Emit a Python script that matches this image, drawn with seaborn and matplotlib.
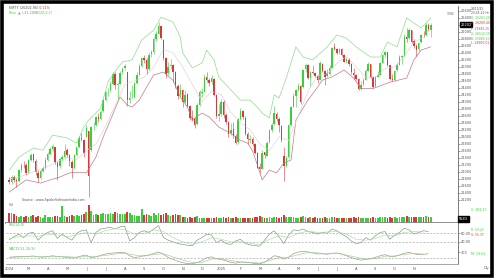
import numpy as np
import matplotlib
matplotlib.use("Agg")
import matplotlib.pyplot as plt
import seaborn as sns
from matplotlib.patches import Rectangle

# ---------------- data ----------------
month_labels = ["2024", "M", "A", "M", "J", "J", "A", "S", "O", "N", "D", "2025",
                "F", "M", "A", "M", "J", "J", "A", "S", "O", "N"]
candles_per_month = 8

opens = [
    21780, 21700, 21860, 21780, 21750, 22050, 22220, 22200,
    22000, 22350, 22500, 22320, 21980, 21830, 22020, 22110,
    22340, 22520, 22650, 22700, 22260, 22160, 22380, 22430,
    22620, 22470, 22290, 22110, 22480, 22710, 22980, 22920,
    23000, 23180, 22620, 23300, 23340, 23570, 23510, 23730,
    24060, 24300, 24330, 24510, 24790, 24470, 24520, 24840,
    24960, 24850, 24060, 24130, 24150, 24550, 24780, 25020,
    25250, 25190, 24950, 25360, 25430, 25800, 25950, 26170,
    25780, 25240, 24810, 25010, 25050, 24840, 24460, 24190,
    24330, 24000, 24210, 23870, 23540, 23510, 23360, 23910,
    24260, 24290, 24710, 24610, 24560, 24660, 24190, 23600,
    23650, 23990, 23610, 23420, 23100, 23210, 23010, 22840,
    23510, 23750, 23550, 23080, 22900, 22940, 22790, 22540,
    22130, 22090, 22560, 22460, 22840, 23200, 23360, 23660,
    23510, 23320, 22460, 22170, 22420, 23340, 23860, 24180,
    24340, 24450, 24420, 24930, 25050, 24690, 24860, 24820,
    24740, 24630, 25090, 24880, 24730, 24800, 24980, 25560,
    25510, 25410, 25510, 25340, 25160, 25200, 25080, 24830,
    24760, 24640, 24370, 24500, 24630, 24890, 25070, 24700,
    24440, 24720, 24780, 25120, 25340, 25410, 25040, 24660,
    24620, 24900, 25060, 25280, 25330, 25850, 25810, 26040,
    25730, 25590, 25500, 25700, 25920, 25900, 26200, 26060,
]
highs = [
    21850, 21900, 21920, 21830, 22070, 22250, 22300, 22240,
    22380, 22530, 22520, 22360, 22050, 22080, 22180, 22420,
    22560, 22700, 22790, 22720, 22300, 22400, 22470, 22790,
    22680, 22500, 22330, 22500, 22720, 23030, 23110, 22950,
    23340, 23180, 23320, 23410, 23600, 23670, 23760, 24090,
    24310, 24400, 24590, 24860, 24850, 24580, 24870, 25000,
    25080, 24850, 24300, 24470, 24560, 24860, 25070, 25270,
    25330, 25240, 25430, 25480, 25850, 26010, 26280, 26200,
    25800, 25290, 25130, 25210, 25080, 24880, 24500, 24500,
    24370, 24350, 24240, 23920, 23780, 23560, 23960, 24350,
    24390, 24790, 24860, 24670, 24780, 24680, 24220, 23940,
    24080, 24050, 23690, 23450, 23390, 23420, 23070, 23550,
    23810, 23770, 23590, 23140, 23050, 22990, 22820, 22560,
    22260, 22630, 22580, 22870, 23220, 23400, 23870, 23700,
    23560, 23350, 22700, 22460, 23370, 23870, 24240, 24360,
    24530, 24490, 24940, 25100, 25070, 24870, 25060, 24860,
    24770, 25160, 25120, 24900, 24950, 25050, 25580, 25670,
    25550, 25550, 25530, 25370, 25260, 25240, 25100, 24960,
    24800, 24670, 24590, 24670, 24930, 25150, 25090, 24730,
    24740, 24870, 25140, 25360, 25450, 25430, 25060, 24790,
    24910, 25100, 25330, 25340, 25930, 26100, 26110, 26060,
    25800, 25650, 25720, 25950, 26010, 26250, 26240, 26250,
]
lows = [
    21640, 21660, 21700, 21580, 21720, 22000, 22120, 21920,
    21980, 22300, 22280, 21920, 21710, 21800, 21990, 22090,
    22300, 22480, 22600, 22230, 21780, 22100, 22320, 22400,
    22420, 22180, 21820, 22080, 22450, 22690, 22880, 22420,
    22990, 21280, 22600, 23200, 23300, 23410, 23480, 23700,
    24030, 24170, 24290, 24480, 24370, 24080, 24500, 24790,
    24900, 23890, 23960, 24100, 24120, 24520, 24760, 24990,
    25120, 24800, 24920, 25290, 25380, 25750, 25930, 25790,
    25200, 24690, 24780, 24950, 24570, 24400, 24070, 24140,
    23840, 23960, 23840, 23480, 23460, 23260, 23340, 23880,
    24140, 24270, 24580, 24460, 24510, 24160, 23540, 23460,
    23600, 23550, 23380, 22990, 23050, 22980, 22790, 22800,
    23480, 23500, 23040, 22800, 22810, 22750, 22500, 22100,
    21960, 22070, 22400, 22440, 22810, 23150, 23340, 23450,
    23140, 22860, 21740, 22130, 22400, 23320, 23840, 23850,
    24300, 23940, 24400, 24850, 24650, 24460, 24800, 24710,
    24530, 24610, 24850, 24470, 24700, 24780, 24960, 25480,
    25370, 25380, 25320, 25130, 25100, 25030, 24800, 24640,
    24610, 24340, 24340, 24460, 24610, 24870, 24690, 24400,
    24420, 24700, 24760, 25100, 25290, 25030, 24630, 24590,
    24600, 24880, 25040, 25090, 25310, 25720, 25790, 25680,
    25550, 25320, 25450, 25680, 25850, 25880, 26030, 25850,
]
closes = [
    21700, 21850, 21780, 21740, 22040, 22200, 22210, 21980,
    22340, 22490, 22330, 21990, 21820, 22010, 22100, 22330,
    22510, 22640, 22750, 22270, 22150, 22370, 22420, 22600,
    22480, 22300, 22100, 22470, 22700, 22970, 22930, 22530,
    23260, 21880, 23290, 23320, 23560, 23500, 23720, 24040,
    24290, 24320, 24500, 24800, 24480, 24510, 24830, 24950,
    25010, 24050, 24120, 24140, 24540, 24770, 25010, 25240,
    25200, 24940, 25350, 25420, 25790, 25940, 26180, 25810,
    25250, 24800, 25000, 25060, 24850, 24470, 24180, 24340,
    23990, 24200, 23880, 23530, 23520, 23350, 23900, 24270,
    24280, 24700, 24620, 24550, 24670, 24200, 23590, 23640,
    24000, 23620, 23430, 23090, 23200, 23020, 22830, 23500,
    23740, 23560, 23070, 22930, 22930, 22800, 22550, 22120,
    22080, 22550, 22470, 22830, 23190, 23350, 23670, 23520,
    23330, 22900, 22160, 22400, 23330, 23850, 24170, 24330,
    24460, 24000, 24920, 25060, 24680, 24850, 24830, 24750,
    24620, 25100, 24890, 24720, 24810, 24970, 25550, 25520,
    25400, 25520, 25350, 25150, 25210, 25090, 24840, 24770,
    24650, 24360, 24490, 24620, 24880, 25080, 24710, 24430,
    24710, 24770, 25110, 25330, 25420, 25050, 24650, 24610,
    24890, 25050, 25290, 25320, 25840, 25800, 26050, 25720,
    25600, 25490, 25690, 25910, 25910, 26190, 26070, 26200,
]
volume = [
    5.5, 6.0, 5.2, 4.0, 3.6, 3.8, 3.4, 4.2,
    3.6, 3.9, 4.4, 3.5, 3.8, 3.3, 3.0, 4.6,
    3.2, 3.6, 3.4, 3.9, 4.1, 3.3, 9.5, 4.0,
    3.7, 4.2, 4.8, 3.9, 4.4, 3.8, 4.6, 5.2,
    6.5, 10.2, 7.0, 4.8, 5.2, 4.6, 5.4, 6.0,
    4.9, 5.3, 5.6, 5.1, 6.2, 5.8, 5.0, 5.4,
    5.2, 6.6, 5.9, 4.8, 4.5, 4.2, 4.0, 8.0,
    4.4, 4.9, 4.5, 4.2, 5.6, 4.8, 5.6, 4.8,
    5.2, 5.6, 4.6, 4.2, 4.8, 5.0, 4.6, 4.4,
    3.4, 3.2, 3.0, 3.5, 2.9, 3.3, 3.8, 3.0,
    2.8, 3.0, 2.7, 2.6, 2.9, 3.1, 3.6, 2.8,
    2.9, 3.2, 3.0, 3.4, 2.8, 3.1, 3.3, 3.0,
    2.8, 2.6, 3.0, 2.9, 2.7, 3.1, 3.3, 3.6,
    3.8, 3.2, 2.8, 3.0, 3.4, 3.1, 3.6, 3.2,
    2.9, 3.3, 4.4, 3.6, 3.4, 3.6, 3.2, 2.9,
    3.0, 3.2, 3.9, 3.4, 3.0, 3.6, 2.9, 3.4,
    2.8, 3.1, 3.0, 3.3, 2.9, 3.0, 3.6, 3.3,
    2.7, 2.9, 2.8, 3.0, 2.6, 2.8, 3.0, 3.2,
    3.1, 3.4, 2.9, 2.8, 3.0, 2.7, 2.9, 3.2,
    2.8, 3.0, 3.3, 3.5, 3.2, 2.9, 3.4, 3.1,
    3.2, 3.0, 3.4, 3.2, 3.6, 3.8, 3.5, 3.3,
    3.4, 3.2, 3.6, 3.3, 3.5, 3.8, 3.3, 3.6,
]

# Bollinger bands (read at candle positions)
upper_idx = [0, 4, 10, 14, 18, 24, 28, 31, 33, 38, 41, 45, 47, 51, 55, 60, 63, 68, 71, 72,
             76, 80, 82, 85, 87, 92, 96, 100, 103, 105, 108, 110, 112, 115, 119, 122, 126,
             132, 136, 140, 144, 150, 154, 157, 161, 165, 168, 171, 175]
upper_band = [22050, 22420, 22680, 22620, 23050, 22970, 22820, 23280, 23480, 23820, 24570,
              24970, 25140, 25200, 25770, 26050, 26420, 26280, 25850, 25400, 24970, 25110,
              25480, 25200, 24710, 24340, 24050, 24050, 23850, 23680, 23540, 24200, 24110,
              24680, 25570, 25280, 25200, 25570, 25910, 25820, 25570, 25280, 25280, 25710,
              25570, 26400, 26250, 26110, 26400]
lower_idx = [0, 7, 13, 17, 21, 25, 29, 32, 36, 39, 42, 46, 49, 51, 54, 57, 60, 64, 68, 71,
             74, 76, 80, 83, 87, 92, 96, 99, 101, 103, 105, 108, 111, 114, 117, 119, 124,
             128, 130, 134, 139, 143, 146, 151, 158, 165, 168, 171, 175]
lower_band = [21420, 21770, 21680, 21770, 21850, 21970, 21990, 21970, 22420, 22990, 23480,
              24140, 23910, 23850, 24050, 24420, 24770, 24850, 24620, 24140, 23850, 23480,
              23680, 23570, 23280, 23100, 22900, 22820, 22600, 22200, 21770, 22050, 21970,
              22250, 22340, 23480, 24050, 24420, 24620, 24710, 24910, 24680, 24380, 24380,
              24560, 24680, 25200, 25480, 25570]
mid_band = [21800, 21850, 21950, 22050, 22150, 22300, 22400, 22350, 22600, 22800, 23300,
            23900, 24500, 24600, 24700, 25000, 25500, 25400, 25000, 24500, 24000, 24300,
            24200, 23700, 23400, 23200, 22800, 22600, 23000, 22900, 23600, 24300, 24750,
            24800, 25100, 25300, 25000, 24700, 24700, 24950, 25000, 25300, 25700, 25850]

rsi = [45, 52, 58, 50, 60, 62, 44, 55, 62, 66, 48, 58, 50, 44, 60, 66, 68, 38, 62, 70,
       72, 74, 70, 75, 76, 42, 50, 62, 66, 62, 70, 78, 50, 44, 40, 36, 34, 32, 31, 44,
       50, 58, 56, 38, 44, 36, 34, 42, 46, 36, 33, 31, 30, 44, 58, 66, 52, 36, 56, 68,
       66, 70, 64, 62, 58, 62, 60, 70, 66, 58, 52, 42, 36, 38, 50, 44, 54, 62, 64, 46,
       56, 62, 72, 68, 58, 62, 66, 64]
rsi_signal = [48, 52, 54, 53, 58, 56, 52, 56, 62, 58, 66, 71, 68, 58, 60, 68, 64, 50, 40,
              34, 40, 50, 46, 40, 40, 37, 33, 46, 54, 50, 60, 65, 62, 63, 64, 58, 46, 44,
              48, 56, 54, 62, 64, 63]
macd = [40, 60, 80, 70, 90, 110, 60, 40, 80, 120, 80, 60, 30, 0, 40, 110, 160, 20, 60, 140,
        220, 260, 280, 290, 300, 120, 20, 60, 130, 160, 240, 330, 200, 30, -80, -180,
        -260, -300, -320, -250, -150, 20, 60, -40, -80, -160, -240, -280, -220, -230,
        -260, -300, -320, -240, -60, 120, 80, -60, 40, 240, 320, 360, 330, 280, 220, 230,
        200, 260, 270, 220, 120, 20, -60, -120, -80, -40, 30, 120, 180, 90, 80, 160, 260,
        300, 230, 180, 200, 230]
macd_signal = [30, 50, 70, 70, 70, 90, 70, 40, 80, 80, 140, 220, 260, 160, 100, 200, 230, 60,
               -120, -240, -250, -60, -40, -140, -220, -240, -280, -150, 40, 40, 180, 300,
               280, 230, 250, 160, 40, -60, -40, 100, 110, 200, 250, 210]
price_ticks = list(range(21200, 26601, 200))

# ---------------- styling ----------------
sns.set_theme(style="white")
plt.rcParams['font.family'] = ['DejaVu Sans']

GREEN = "#3ccf3c"
RED = "#d8383a"
UPPER_C = "#8fdc8f"
LOWER_C = "#c07a84"
MID_C = "#ecd0dc"
TXT = "#555555"

W, H = 500, 280
fig = plt.figure(figsize=(5, 2.8), dpi=100)
fig.patch.set_facecolor("white")


def ax_at(x0, y0, x1, y1):
    return fig.add_axes([x0 / W, 1 - y1 / H, (x1 - x0) / W, (y1 - y0) / H])


def T(x, y, s, color=TXT, size=2.4, ha="left", **kw):
    fig.text(x / W, 1 - y / H, s, color=color, fontsize=size, ha=ha, va="center", **kw)


ax_p = ax_at(6, 6, 458, 203)
ax_v = ax_at(6, 203, 458, 223)
ax_r = ax_at(6, 223, 458, 247)
ax_m = ax_at(6, 247, 458, 264)

n = len(closes)
idx = np.arange(n)
o = np.array(opens, float)
c = np.array(closes, float)
hi = np.array(highs, float)
lo = np.array(lows, float)
colors = np.where(c >= o, GREEN, RED)
XL = (-1.33, 186.3)

# price panel
sns.lineplot(x=upper_idx, y=upper_band, ax=ax_p, color=UPPER_C, lw=0.5)
sns.lineplot(x=lower_idx, y=lower_band, ax=ax_p, color=LOWER_C, lw=0.5)
sns.lineplot(x=np.arange(0, n, 4), y=mid_band, ax=ax_p, color=MID_C, lw=0.5)
ax_p.vlines(idx, lo, hi, colors=colors, lw=0.4)
ax_p.bar(idx, np.maximum(np.abs(c - o), 10), bottom=np.minimum(o, c), width=0.6,
         color=colors, lw=0)
ax_p.set_ylim(21110, 26738)
ax_p.set_yticks(price_ticks)
ax_p.set_yticklabels([str(v) for v in price_ticks])

# volume
ax_v.bar(idx, volume, width=0.72, color=colors, lw=0)
ax_v.set_ylim(0, 11.5)
ax_v.set_yticks([])

# RSI
sns.lineplot(x=np.arange(0, n, 2), y=rsi, ax=ax_r, color="#7a967a", lw=0.45)
sns.lineplot(x=np.arange(0, n, 4), y=rsi_signal, ax=ax_r, color="#a6e0a6", lw=0.45)
for lvl in (60, 40):
    ax_r.axhline(lvl, color="#aaaaaa", ls=(0, (3, 2)), lw=0.5)
ax_r.set_ylim(28, 84)
ax_r.set_yticks([60, 40])
ax_r.set_yticklabels(["60.00", "40.00"])

# MACD
sns.lineplot(x=np.arange(0, n, 2), y=macd, ax=ax_m, color="#a0907a", lw=0.45)
sns.lineplot(x=np.arange(0, n, 4), y=macd_signal, ax=ax_m, color="#90d890", lw=0.45)
ax_m.axhline(0, color="#aaaaaa", ls=(0, (3, 2)), lw=0.5)
ax_m.set_ylim(-330, 600)
ax_m.set_yticks([300])
ax_m.set_yticklabels(["300"])

month_pos = np.arange(len(month_labels)) * candles_per_month
for a in (ax_p, ax_v, ax_r, ax_m):
    a.set_xlim(*XL)
    a.set_facecolor("white")
    a.set_xlabel("")
    a.set_ylabel("")
    a.yaxis.tick_right()
    a.tick_params(axis="y", labelsize=2.5, colors=TXT, length=1.2, width=0.4, pad=1)
    for s in ("left", "top"):
        a.spines[s].set_visible(False)
    a.spines["right"].set_color("#666666")
    a.spines["right"].set_linewidth(0.6)
    a.spines["bottom"].set_color("#999999")
    a.spines["bottom"].set_linewidth(0.6)
    if a is not ax_m:
        a.set_xticks([])
ax_v.spines["bottom"].set_color("#888888")
ax_v.spines["bottom"].set_linewidth(1.3)
ax_m.set_xticks(month_pos)
ax_m.set_xticklabels(month_labels)
ax_m.tick_params(axis="x", labelsize=2.6, colors=TXT, length=1.2, width=0.4, pad=1)

# ---------------- texts ----------------
T(9, 8, "NIFTY (26202.95)", TXT)
T(39, 8, "-0.21%", RED)
T(9, 13, "Price", GREEN)
T(18, 13, "▲ (-21.20)", "#c060c0")
T(35, 13, "BB(20,2,C)", GREEN)
T(22, 200, "Source : www.SpiderSoftwareIndia.com", TXT, 2.3)
T(9, 205.5, "Vol", TXT, 2.3)
T(9, 225.5, "RSI(14,9)", GREEN, 2.5)
T(9, 249.5, "MACD(12,26,9)", GREEN, 2.5)

T(447, 14, "1392", TXT, 2.2)
T(460.5, 24.5, "26202", "white", 2.5,
  bbox=dict(boxstyle="square,pad=0.15", fc="black", ec="black"))
for y, s, col in [(9.5, "28/11/25", TXT), (13.5, "23:45:22 Hr", TXT),
                  (18, "O: 26261.20", GREEN), (22.5, "H: 26289.40", RED),
                  (29.5, "P: 25883.25", "#b040c0"), (34, "U: 26510.39", GREEN),
                  (38.5, "B: 25880.20", GREEN), (43, "L: 24960.01", RED)]:
    T(471, y, s, col, 2.2)
T(471, 210, "V: 381.23", GREEN, 2.3)
T(459, 219, "5583", "white", 2.5,
  bbox=dict(boxstyle="square,pad=0.15", fc="black", ec="black"))
T(471, 230, "R: 59.23", GREEN, 2.2)
T(471, 234.5, "S: 55.37", RED, 2.2)
T(471, 254, "M: 19.61", GREEN, 2.3)
T(484, 268, "Dly", TXT, 2.4)

# frame
fig.add_artist(Rectangle((2 / W, 1 - 276 / H), 490 / W, 274 / H, transform=fig.transFigure,
                         fill=False, ec="black", lw=2.6))

fig.savefig("out.png", dpi=100, facecolor="white")
